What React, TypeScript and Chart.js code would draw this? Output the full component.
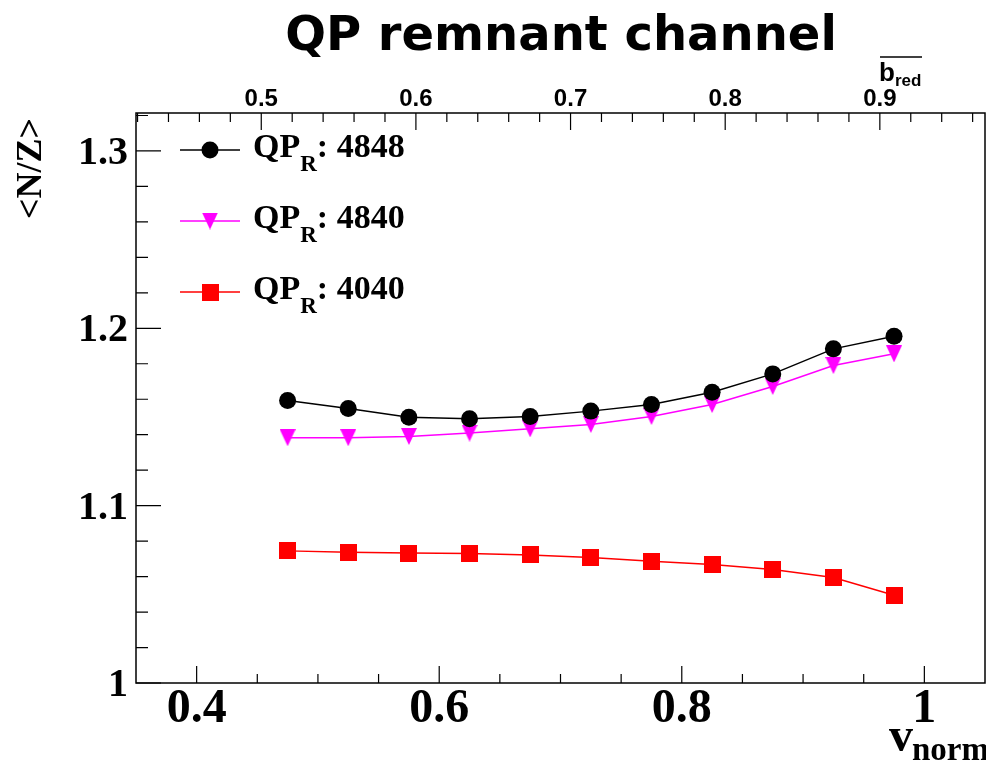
import React, { useEffect, useRef } from "react";
import { Chart, registerables } from "chart.js";

Chart.register(...registerables);

// v_norm bin centres
const vNorm = [0.475, 0.525, 0.575, 0.625, 0.675, 0.725, 0.775, 0.825, 0.875, 0.925, 0.975];

// <N/Z> of the QP remnant for each system
const nz4848 = [1.1593, 1.1548, 1.1499, 1.149, 1.1503, 1.1533, 1.157, 1.164, 1.1743, 1.1884, 1.1955];
const nz4840 = [1.1383, 1.1383, 1.139, 1.1409, 1.1433, 1.1458, 1.1503, 1.157, 1.1672, 1.179, 1.1856];
const nz4040 = [1.0745, 1.0737, 1.0733, 1.073, 1.0722, 1.0707, 1.0687, 1.0668, 1.064, 1.0595, 1.0495];

const seriesNames = ["4848", "4840", "4040"];
const seriesColors = ["#000000", "#ff00ff", "#ff0000"];

// axis tick labels
const xTickLabels = ["0.4", "0.6", "0.8", "1"];
const xTickValues = [0.4, 0.6, 0.8, 1.0];
const yTickLabels = ["1", "1.1", "1.2", "1.3"];
const yTickValues = [1.0, 1.1, 1.2, 1.3];
const bTickLabels = ["0.5", "0.6", "0.7", "0.8", "0.9"];
const bTickValues = [0.5, 0.6, 0.7, 0.8, 0.9];

const SERIF = "'Liberation Serif', 'Times New Roman', serif";
const SANS = "'Liberation Sans', Arial, sans-serif";

function makeMarker(kind: "tri" | "square", color: string): HTMLCanvasElement {
  const c = document.createElement("canvas");
  const w = kind === "tri" ? 16 : 17;
  const h = 17;
  c.width = w;
  c.height = h;
  const g = c.getContext("2d")!;
  g.fillStyle = color;
  if (kind === "tri") {
    g.beginPath();
    g.moveTo(0, 0);
    g.lineTo(w, 0);
    g.lineTo(w / 2, h);
    g.closePath();
    g.fill();
  } else {
    g.fillRect(0, 0, w, h);
  }
  return c;
}

export default function App() {
  const ref = useRef<HTMLCanvasElement | null>(null);

  useEffect(() => {
    document.body.style.margin = "0";
    const canvas = ref.current!;
    const tri = makeMarker("tri", seriesColors[1]);
    const sq = makeMarker("square", seriesColors[2]);

    const drawMarker = (ctx: CanvasRenderingContext2D, i: number, x: number, y: number) => {
      if (i === 0) {
        ctx.fillStyle = seriesColors[0];
        ctx.beginPath();
        ctx.arc(x, y, 8.5, 0, Math.PI * 2);
        ctx.fill();
      } else {
        const img = i === 1 ? tri : sq;
        ctx.drawImage(img, x - img.width / 2, y - img.height / 2);
      }
    };

    const decorations = {
      id: "rootFrame",
      afterDraw(chart: any) {
        const ctx: CanvasRenderingContext2D = chart.ctx;
        const { left, right, top, bottom } = chart.chartArea;
        const sx = chart.scales.x;
        const sy = chart.scales.y;
        const sb = chart.scales.x2;
        ctx.save();

        // frame
        ctx.strokeStyle = "#000";
        ctx.lineWidth = 1.5;
        ctx.strokeRect(left, top, right - left, bottom - top);

        // bottom axis ticks (inside)
        ctx.lineWidth = 1.2;
        ctx.beginPath();
        for (let k = 8; k <= 20; k++) {
          const v = k * 0.05;
          const px = sx.getPixelForValue(v);
          const len = k % 4 === 0 ? 17 : 9;
          ctx.moveTo(px, bottom);
          ctx.lineTo(px, bottom - len);
        }
        // left axis ticks
        for (let k = 0; k <= 16; k++) {
          const v = 1 + k * 0.02;
          const py = sy.getPixelForValue(v);
          const len = k % 5 === 0 ? 25 : 12;
          ctx.moveTo(left, py);
          ctx.lineTo(left + len, py);
        }
        // top axis ticks
        for (let k = 21; k <= 48; k++) {
          const v = k * 0.02;
          const px = sb.getPixelForValue(v);
          if (px < left || px > right) continue;
          const len = k % 5 === 0 ? 17 : 9;
          ctx.moveTo(px, top);
          ctx.lineTo(px, top + len);
        }
        ctx.stroke();

        ctx.fillStyle = "#000";
        // bottom labels
        ctx.font = `bold 48px ${SERIF}`;
        ctx.textAlign = "center";
        ctx.textBaseline = "alphabetic";
        xTickValues.forEach((v, i) => {
          ctx.fillText(xTickLabels[i], sx.getPixelForValue(v), 722);
        });
        // left labels
        ctx.font = `bold 40px ${SERIF}`;
        ctx.textAlign = "right";
        yTickValues.forEach((v, i) => {
          ctx.fillText(yTickLabels[i], 128, sy.getPixelForValue(v) + 13);
        });
        // top labels
        ctx.font = `bold 24px ${SANS}`;
        ctx.textAlign = "center";
        bTickValues.forEach((v, i) => {
          ctx.fillText(bTickLabels[i], sb.getPixelForValue(v), 106);
        });

        // top axis title: b-bar_red
        ctx.textAlign = "left";
        ctx.font = `bold 26px ${SANS}`;
        ctx.fillText("b", 879, 81);
        ctx.font = `bold 17px ${SANS}`;
        ctx.fillText("red", 895, 86);
        ctx.lineWidth = 1.5;
        ctx.beginPath();
        ctx.moveTo(880, 57);
        ctx.lineTo(922, 57);
        ctx.stroke();

        // title
        ctx.textAlign = "center";
        ctx.font = `bold 48px 'DejaVu Sans', sans-serif`;
        ctx.fillText("QP remnant channel", 561, 50);

        // y title
        ctx.save();
        ctx.translate(41, 118);
        ctx.rotate(-Math.PI / 2);
        ctx.textAlign = "right";
        ctx.font = `bold 36px ${SERIF}`;
        ctx.fillText("<N/Z>", 0, 0);
        ctx.restore();

        // x title v_norm
        ctx.textAlign = "left";
        ctx.font = `bold 48px ${SERIF}`;
        ctx.fillText("v", 889, 751);
        ctx.font = `bold 33px ${SERIF}`;
        ctx.fillText("norm", 912, 760);

        // legend
        const ly = [150, 221, 292];
        seriesNames.forEach((name, i) => {
          const y = ly[i];
          ctx.strokeStyle = seriesColors[i];
          ctx.lineWidth = 1.5;
          ctx.beginPath();
          ctx.moveTo(180, y);
          ctx.lineTo(240, y);
          ctx.stroke();
          drawMarker(ctx, i, 210, y);
          ctx.fillStyle = "#000";
          ctx.font = `bold 34px ${SERIF}`;
          ctx.fillText("QP", 253, y + 7);
          let xx = 253 + ctx.measureText("QP").width;
          ctx.font = `bold 23px ${SERIF}`;
          ctx.fillText("R", xx, y + 21);
          xx += ctx.measureText("R").width;
          ctx.font = `bold 34px ${SERIF}`;
          ctx.fillText(": " + name, xx, y + 7);
        });

        ctx.restore();
      },
    };

    const mk = (data: number[], i: number, style: any, radius: number) => ({
      label: "QP_R: " + seriesNames[i],
      data: vNorm.map((x, j) => ({ x, y: data[j] })),
      borderColor: seriesColors[i],
      backgroundColor: seriesColors[i],
      borderWidth: 1.5,
      pointStyle: style,
      pointRadius: radius,
      pointBorderWidth: 0,
      tension: 0,
      showLine: true,
    });

    const chart = new Chart(canvas, {
      type: "scatter",
      data: {
        datasets: [
          mk(nz4848, 0, "circle", 8.5),
          mk(nz4840, 1, tri, 8.5),
          mk(nz4040, 2, sq, 8.5),
        ],
      },
      options: {
        animation: false,
        responsive: true,
        maintainAspectRatio: false,
        layout: { autoPadding: false, padding: { left: 0, right: 1, top: 0, bottom: 0 } },
        plugins: { legend: { display: false }, tooltip: { enabled: false } },
        scales: {
          x: {
            type: "linear",
            position: "bottom",
            min: 0.35,
            max: 1.05,
            ticks: { display: false },
            grid: { display: false },
            border: { display: false },
            afterFit: (s: any) => { s.height = 80; },
          },
          x2: {
            type: "linear",
            axis: "x",
            position: "top",
            min: 0.419,
            max: 0.968,
            ticks: { display: false },
            grid: { display: false },
            border: { display: false },
            afterFit: (s: any) => { s.height = 113; },
          },
          y: {
            type: "linear",
            position: "left",
            min: 1.0,
            max: 1.3214,
            ticks: { display: false },
            grid: { display: false },
            border: { display: false },
            afterFit: (s: any) => { s.width = 136; },
          },
        },
      } as any,
      plugins: [decorations],
    });
    return () => chart.destroy();
  }, []);

  return (
    <div style={{ position: "fixed", left: 0, top: 0, width: 986, height: 763, background: "#fff" }}>
      <canvas ref={ref} />
    </div>
  );
}
